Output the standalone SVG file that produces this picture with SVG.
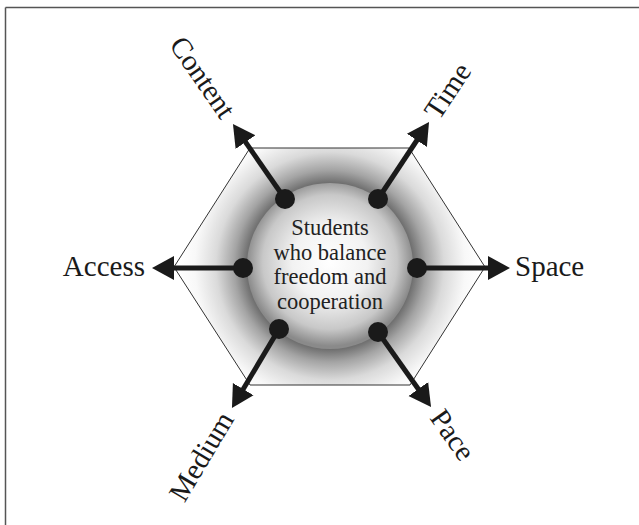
<svg xmlns="http://www.w3.org/2000/svg" width="639" height="525" viewBox="0 0 639 525">
<defs>
<style>
.lbl{font-family:"Liberation Serif","Times New Roman",serif;font-size:29px;fill:#1a1a1a}
.ctr{font-family:"Liberation Serif","Times New Roman",serif;font-size:22.5px;fill:#222;text-anchor:middle}
.arrow{stroke:#1a1a1a;stroke-width:5;fill:none;marker-end:url(#ah)}
.dot{fill:#1a1a1a}
</style>
<marker id="ah" markerUnits="userSpaceOnUse" markerWidth="24" markerHeight="26" refX="10" refY="12" orient="auto" viewBox="0 0 24 24">
<path d="M0,0 L22,12 L0,24 z" fill="#1a1a1a"/>
</marker>
<radialGradient id="hexg" gradientUnits="userSpaceOnUse" cx="330" cy="266" r="150">
<stop offset="0" stop-color="#666"/>
<stop offset="0.55" stop-color="#6c6c6c"/>
<stop offset="0.64" stop-color="#a4a4a4"/>
<stop offset="0.76" stop-color="#dadada"/>
<stop offset="0.9" stop-color="#f8f8f8"/>
<stop offset="1" stop-color="#ffffff"/>
</radialGradient>
<radialGradient id="circg" gradientUnits="userSpaceOnUse" cx="330" cy="262" r="84">
<stop offset="0" stop-color="#ffffff"/>
<stop offset="0.45" stop-color="#f2f2f2"/>
<stop offset="0.8" stop-color="#c8c8c8"/>
<stop offset="1" stop-color="#8a8a8a"/>
</radialGradient>
</defs>
<rect width="639" height="525" fill="#fff"/>
<g id="frame" stroke="#555" stroke-width="1.5" fill="none">
<line x1="5.5" y1="7.5" x2="639" y2="7.5"/>
<line x1="5.5" y1="7.5" x2="5.5" y2="525"/>
</g>
<g id="hexagon">
<polygon points="250,148 409,148 485,267 410,385 250,385 174,267" fill="url(#hexg)" stroke="#333" stroke-width="1"/>
</g>
<g id="center">
<circle cx="330" cy="266" r="83" fill="url(#circg)"/>
<text class="ctr" x="330" y="235">Students</text>
<text class="ctr" x="330" y="259.5">who balance</text>
<text class="ctr" x="330" y="284">freedom and</text>
<text class="ctr" x="330" y="308.5">cooperation</text>
</g>
<g id="connectors">
<line class="arrow" x1="285" y1="199" x2="239.8" y2="133.9"/>
<line class="arrow" x1="378" y1="199" x2="422.4" y2="132"/>
<line class="arrow" x1="243" y1="268" x2="164" y2="268"/>
<line class="arrow" x1="417" y1="268" x2="498" y2="268"/>
<line class="arrow" x1="279" y1="329" x2="238.1" y2="397.7"/>
<line class="arrow" x1="378" y1="332" x2="424.1" y2="397.2"/>
<circle class="dot" cx="285" cy="199" r="10"/>
<circle class="dot" cx="378" cy="199" r="10"/>
<circle class="dot" cx="243" cy="268" r="10"/>
<circle class="dot" cx="417" cy="268" r="10"/>
<circle class="dot" cx="279" cy="329" r="10"/>
<circle class="dot" cx="378" cy="332" r="10"/>
</g>
<g id="content">
<text class="lbl" transform="translate(227.4,116) rotate(55.3)" x="0" y="8" text-anchor="end">Content</text>
</g>
<g id="time">
<text class="lbl" transform="translate(432.4,116.8) rotate(-56.5)" x="0" y="8">Time</text>
</g>
<g id="access">
<text class="lbl" x="145" y="276" text-anchor="end">Access</text>
</g>
<g id="space">
<text class="lbl" x="515" y="276">Space</text>
</g>
<g id="medium">
<text class="lbl" transform="translate(227.9,414.9) rotate(-59.3)" x="0" y="8" text-anchor="end">Medium</text>
</g>
<g id="pace">
<text class="lbl" transform="translate(435.6,413.5) rotate(54.8)" x="0" y="8">Pace</text>
</g>
</svg>
